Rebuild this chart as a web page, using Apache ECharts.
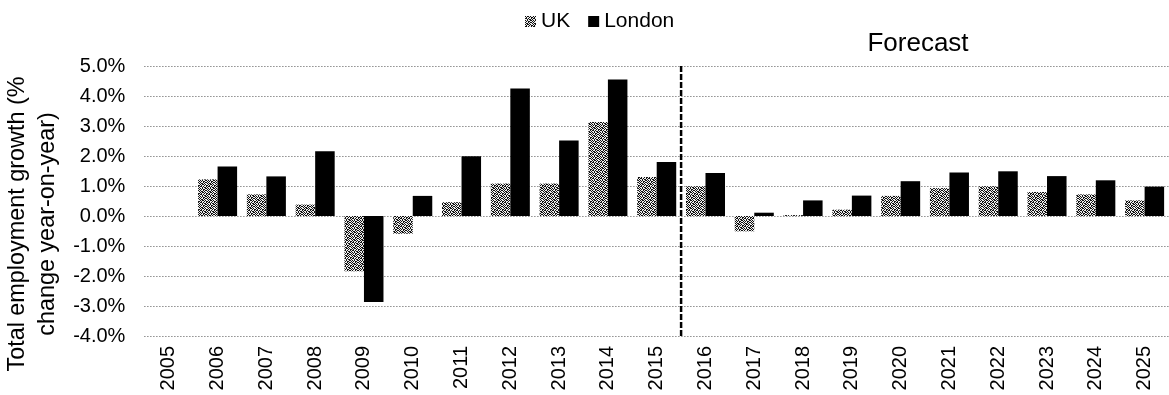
<!DOCTYPE html>
<html>
<head>
<meta charset="utf-8">
<script src="https://cdn.jsdelivr.net/npm/echarts@6/dist/echarts.min.js"></script>
<style>
  html, body { margin: 0; padding: 0; background: #fff; }
  #chart { width: 1169px; height: 395px; }
</style>
</head>
<body>
<div id="chart"></div>
<script>
// Total employment growth, % change year-on-year
const years = ['2005','2006','2007','2008','2009','2010','2011','2012','2013','2014','2015',
               '2016','2017','2018','2019','2020','2021','2022','2023','2024','2025'];
const ukValues = [null, 1.22, 0.72, 0.38, -1.84, -0.59, 0.46, 1.08, 1.08, 3.13, 1.30,
                  0.99, -0.51, 0.03, 0.21, 0.67, 0.93, 0.99, 0.80, 0.72, 0.52];
const londonValues = [null, 1.65, 1.32, 2.16, -2.87, 0.67, 1.99, 4.25, 2.52, 4.55, 1.80,
                      1.43, 0.11, 0.52, 0.68, 1.16, 1.45, 1.49, 1.33, 1.19, 0.98];
const yTicks = { min: -4, max: 5, interval: 1 };
// forecast period starts after the 11th category (2005..2015)
const forecastStart = 11;
const seriesNames = ['UK', 'London'];

const FONT = '"Liberation Sans", Arial, sans-serif';

// stippled fill used for the UK bars
function stipple() {
  const rows = [
    '10110100',
    '01001011',
    '11010010',
    '00101101',
    '10100110',
    '01011001',
    '10010110',
    '01101001'
  ];
  const c = document.createElement('canvas');
  c.width = 8; c.height = 8;
  const ctx = c.getContext('2d');
  ctx.fillStyle = '#eeeeee';
  ctx.fillRect(0, 0, 8, 8);
  ctx.fillStyle = '#111';
  rows.forEach((r, y) => {
    for (let x = 0; x < r.length; x++) if (r[x] === '1') ctx.fillRect(x, y, 1, 1);
  });
  return c;
}

const chart = echarts.init(document.getElementById('chart'), null, { renderer: 'canvas' });

chart.setOption({
  animation: false,
  backgroundColor: '#fff',
  textStyle: { fontFamily: FONT },
  legend: {
    top: 6,
    left: 520,
    icon: 'rect',
    itemWidth: 11,
    itemHeight: 11,
    itemGap: 18,
    textStyle: { fontFamily: FONT, fontSize: 21, color: '#000' },
    data: seriesNames
  },
  grid: { left: 144.4, top: 66, width: 1033, height: 270, containLabel: false },
  xAxis: [
    {
      type: 'category',
      data: years,
      axisLine: { show: false },
      axisTick: { show: false },
      splitLine: { show: false },
      axisLabel: {
        rotate: 90,
        margin: 10,
        fontFamily: FONT,
        fontSize: 20,
        color: '#000',
        interval: 0
      }
    },
    {
      // hidden band-index axis, used to place the forecast divider between categories
      type: 'value',
      min: 0,
      max: years.length,
      show: false
    }
  ],
  yAxis: {
    type: 'value',
    min: yTicks.min,
    max: yTicks.max,
    interval: yTicks.interval,
    axisLine: { show: false },
    axisTick: { show: false },
    axisLabel: {
      margin: 19,
      fontFamily: FONT,
      fontSize: 20,
      color: '#000',
      formatter: v => v.toFixed(1) + '%'
    },
    splitLine: { lineStyle: { color: '#555', type: [1, 2], width: 1 } }
  },
  graphic: [
    {
      type: 'text',
      x: 33,
      y: 224,
      rotation: Math.PI / 2,
      style: {
        text: 'Total employment growth (%\nchange year-on-year)',
        fontFamily: FONT,
        fontSize: 23.4,
        lineHeight: 30,
        fill: '#000',
        align: 'center',
        verticalAlign: 'middle'
      }
    },
    {
      type: 'text',
      x: 918,
      y: 44,
      style: {
        text: 'Forecast',
        fontFamily: FONT,
        fontSize: 26,
        fill: '#000',
        align: 'center',
        verticalAlign: 'middle'
      }
    }
  ],
  series: [
    {
      name: seriesNames[0],
      type: 'bar',
      data: ukValues,
      barGap: '0%',
      barCategoryGap: '20%',
      itemStyle: { color: { image: stipple(), repeat: 'repeat' } }
    },
    {
      name: seriesNames[1],
      type: 'bar',
      data: londonValues,
      barGap: '0%',
      barCategoryGap: '20%',
      itemStyle: { color: '#000' }
    },
    {
      name: 'forecast-divider',
      type: 'line',
      xAxisIndex: 1,
      symbol: 'none',
      silent: true,
      z: 5,
      data: [[forecastStart, yTicks.min], [forecastStart, yTicks.max]],
      lineStyle: { color: '#000', type: [6, 2], width: 2.5 }
    }
  ]
});
</script>
</body>
</html>
